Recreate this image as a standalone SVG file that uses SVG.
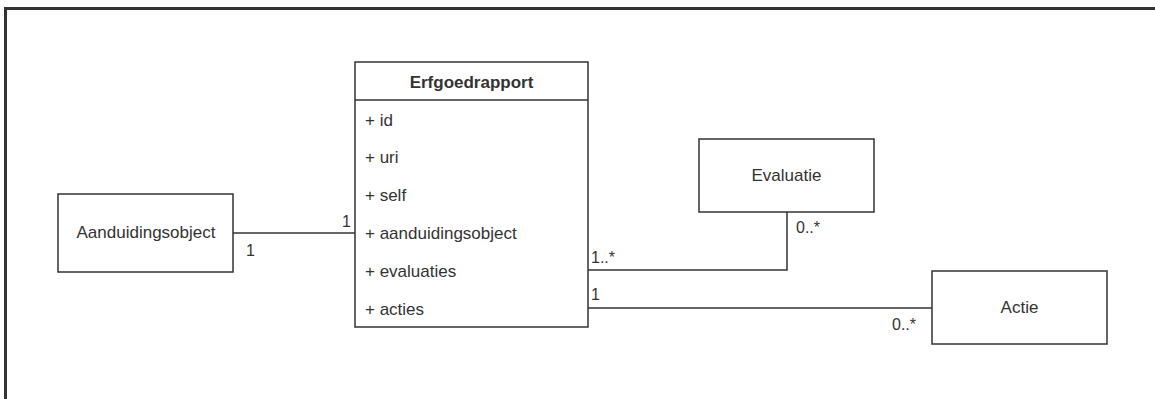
<svg xmlns="http://www.w3.org/2000/svg" width="1155" height="399" viewBox="0 0 1155 399">
<style>
text{font-family:"Liberation Sans",Arial,sans-serif;font-size:17px;fill:#333}
.box{fill:#fff;stroke:#333;stroke-width:1.5}
.c{fill:none;stroke:#333;stroke-width:1.5}
.m{text-anchor:middle}
.b{font-weight:bold}
.s{font-size:16px}
</style>
<rect width="1155" height="399" fill="#fff"/>
<path d="M5.5,399 V8.5 H1155" fill="none" stroke="#333" stroke-width="3"/>
<g id="connectors">
<path class="c" d="M233,233 H355"/>
<path class="c" d="M588,270 H787 V212"/>
<path class="c" d="M588,308 H932"/>
<text class="s" x="342" y="227">1</text>
<text class="s" x="246" y="256">1</text>
<text class="s" x="591" y="263">1..*</text>
<text class="s" x="796" y="233">0..*</text>
<text class="s" x="591" y="300">1</text>
<text class="s" x="892" y="330">0..*</text>
</g>
<g id="aanduidingsobject">
<rect class="box" x="58" y="194" width="175" height="78"/>
<text class="m" x="146" y="238">Aanduidingsobject</text>
</g>
<g id="erfgoedrapport">
<rect class="box" x="355" y="62" width="233" height="265"/>
<path class="c" d="M355,100 H588"/>
<text class="m b" x="471.5" y="88">Erfgoedrapport</text>
<text x="365" y="126">+ id</text>
<text x="365" y="163">+ uri</text>
<text x="365" y="201">+ self</text>
<text x="365" y="239">+ aanduidingsobject</text>
<text x="365" y="277">+ evaluaties</text>
<text x="365" y="315">+ acties</text>
</g>
<g id="evaluatie">
<rect class="box" x="699" y="139" width="175" height="73"/>
<text class="m" x="786.5" y="181">Evaluatie</text>
</g>
<g id="actie">
<rect class="box" x="932" y="271" width="175" height="73"/>
<text class="m" x="1019.5" y="313">Actie</text>
</g>
</svg>
